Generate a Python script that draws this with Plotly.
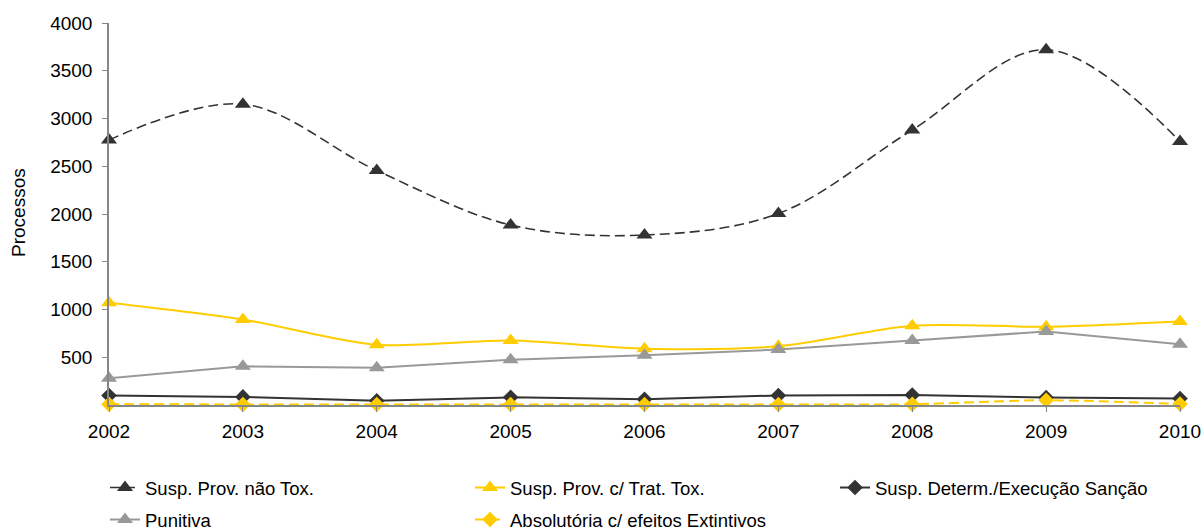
import plotly.graph_objects as go

years = [2002, 2003, 2004, 2005, 2006, 2007, 2008, 2009, 2010]
susp_nao_tox = [2775, 3150, 2455, 1885, 1780, 2005, 2880, 3720, 2760]
susp_trat_tox = [1070, 895, 630, 675, 590, 615, 830, 820, 875]
susp_determ = [100, 85, 45, 80, 60, 100, 105, 78, 67]
punitiva = [280, 405, 390, 475, 520, 580, 675, 770, 635]
absolutoria = [8, 6, 5, 6, 5, 6, 8, 50, 10]
y_ticks = [500, 1000, 1500, 2000, 2500, 3000, 3500, 4000]

FONT = "Liberation Sans, Arial, sans-serif"

W, H = 1203, 530
ML, MR, MT, MB = 109, 23, 23, 125
PW, PH = W - ML - MR, H - MT - MB


def px_x(x):
    return (x - ML) / PW


def px_y(y):
    return (H - MB - y) / PH


fig = go.Figure()
fig.add_trace(go.Scatter(
    x=years, y=susp_nao_tox, name="Susp. Prov. não Tox.", mode="lines+markers",
    legend="legend", cliponaxis=False,
    line=dict(color="#333333", width=1.6, dash="10px,5px", shape="spline", smoothing=1.0),
    marker=dict(symbol="triangle-up", size=14, color="#333333")))
fig.add_trace(go.Scatter(
    x=years, y=susp_trat_tox, name="Susp. Prov. c/ Trat. Tox.", mode="lines+markers",
    legend="legend", cliponaxis=False,
    line=dict(color="#FFCC00", width=2, shape="spline", smoothing=0.8),
    marker=dict(symbol="triangle-up", size=14, color="#FFCC00")))
fig.add_trace(go.Scatter(
    x=years, y=susp_determ, name="Susp. Determ./Execução Sanção", mode="lines+markers",
    legend="legend", cliponaxis=False,
    line=dict(color="#333333", width=2),
    marker=dict(symbol="diamond", size=12, color="#333333")))
fig.add_trace(go.Scatter(
    x=years, y=punitiva, name="Punitiva", mode="lines+markers",
    legend="legend2", cliponaxis=False,
    line=dict(color="#999999", width=2),
    marker=dict(symbol="triangle-up", size=14, color="#999999")))
fig.add_trace(go.Scatter(
    x=years, y=absolutoria, name="Absolutória c/ efeitos Extintivos", mode="lines+markers",
    legend="legend2", cliponaxis=False,
    line=dict(color="#FFCC00", width=2, dash="10px,5px", shape="spline", smoothing=0.8),
    marker=dict(symbol="diamond", size=12, color="#FFCC00")))

leg_common = dict(orientation="h", xanchor="left", yanchor="middle",
                  entrywidth=320, entrywidthmode="pixels",
                  font=dict(family=FONT, size=18.5, color="#000000"),
                  bgcolor="rgba(0,0,0,0)")

fig.update_layout(
    width=W, height=H,
    margin=dict(l=ML, r=MR, t=MT, b=MB, autoexpand=False),
    plot_bgcolor="white", paper_bgcolor="white",
    font=dict(family=FONT, size=19, color="#000000"),
    showlegend=True,
    legend=dict(x=px_x(105), y=px_y(488), **leg_common),
    legend2=dict(x=px_x(105), y=px_y(520), **leg_common),
    xaxis=dict(range=[2002, 2010], tickvals=years, ticktext=[str(y) for y in years],
               showgrid=False, zeroline=False, showline=True, linecolor="#868686",
               linewidth=1.5, ticks="outside", ticklen=5, tickcolor="#868686",
               tickfont=dict(size=19), ticklabelstandoff=3),
    yaxis=dict(range=[0, 4000], tickvals=y_ticks, showgrid=False, zeroline=False,
               showline=True, linecolor="#868686", linewidth=1.5, ticks="outside",
               ticklen=5, tickcolor="#868686", tickfont=dict(size=19),
               ticklabelstandoff=6),
    annotations=[dict(text="Processos", x=px_x(18), y=px_y(213), xref="paper", yref="paper",
                      xanchor="center", yanchor="middle",
                      showarrow=False, textangle=-90, font=dict(size=19))],
)

fig.write_html("out.html")
